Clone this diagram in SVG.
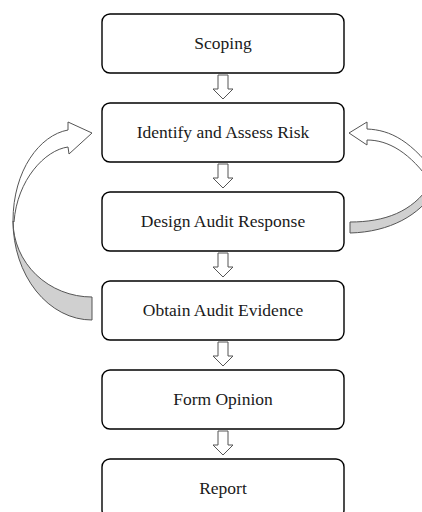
<svg xmlns="http://www.w3.org/2000/svg" width="422" height="512" viewBox="0 0 422 512">
  <style>
    .box { fill: #ffffff; stroke: #000000; stroke-width: 1.4; }
    .label { font-family: "Liberation Serif", "DejaVu Serif", serif; font-size: 17.5px; fill: #1a1a1a; text-anchor: middle; }
    .flow { fill: #ffffff; stroke: #555555; stroke-width: 1; stroke-linejoin: miter; }
    .back { fill: #d0d0d0; stroke: #555555; stroke-width: 1; }
  </style>
  <defs>
    <!-- hollow block arrow pointing down, drawn from y=0 -->
    <path id="down" d="M-5,0 L5,0 L5,14 L10,14 L0,24 L-10,14 L-5,14 Z"/>
  </defs>

  <rect width="422" height="512" fill="#ffffff"/>

  <g id="connectors">
    <use href="#down" class="flow" x="223" y="75"/>
    <use href="#down" class="flow" x="223" y="164"/>
    <use href="#down" class="flow" x="223" y="253"/>
    <use href="#down" class="flow" x="223" y="342"/>
    <use href="#down" class="flow" x="223" y="431"/>

    <!-- loop back from Obtain Audit Evidence to Identify and Assess Risk -->
    <g id="loop-left">
      <path class="back" d="M92,297 A79,76 0 0 1 13,221 A79,99 0 0 0 92,320 Z"/>
      <path class="flow" d="M13,221 C13,170 40,135 68,130 L68,122 L92,133 L69,154 L68,147 C45,150 17,180 14,222 Z"/>
    </g>

    <!-- loop back from Design Audit Response to Identify and Assess Risk -->
    <g id="loop-right">
      <path class="back" d="M350,222 C385,222 412,212 430,185 L435,190 C420,215 390,232 350,233 Z"/>
      <path class="flow" d="M349,133 L367,122 L367,129 C390,130 412,140 440,180 L432,184 C410,152 388,140 367,140 L367,145 Z"/>
    </g>
  </g>

  <g id="scoping">
    <rect class="box" x="102" y="14" width="242" height="59" rx="8"/>
    <text class="label" x="223" y="49">Scoping</text>
  </g>
  <g id="identify-risk">
    <rect class="box" x="102" y="103" width="242" height="59" rx="8"/>
    <text class="label" x="223" y="138">Identify and Assess Risk</text>
  </g>
  <g id="design-response">
    <rect class="box" x="102" y="192" width="242" height="59" rx="8"/>
    <text class="label" x="223" y="227">Design Audit Response</text>
  </g>
  <g id="obtain-evidence">
    <rect class="box" x="102" y="281" width="242" height="59" rx="8"/>
    <text class="label" x="223" y="316">Obtain Audit Evidence</text>
  </g>
  <g id="form-opinion">
    <rect class="box" x="102" y="370" width="242" height="59" rx="8"/>
    <text class="label" x="223" y="405">Form Opinion</text>
  </g>
  <g id="report">
    <rect class="box" x="102" y="459" width="242" height="59" rx="8"/>
    <text class="label" x="223" y="494">Report</text>
  </g>
</svg>
